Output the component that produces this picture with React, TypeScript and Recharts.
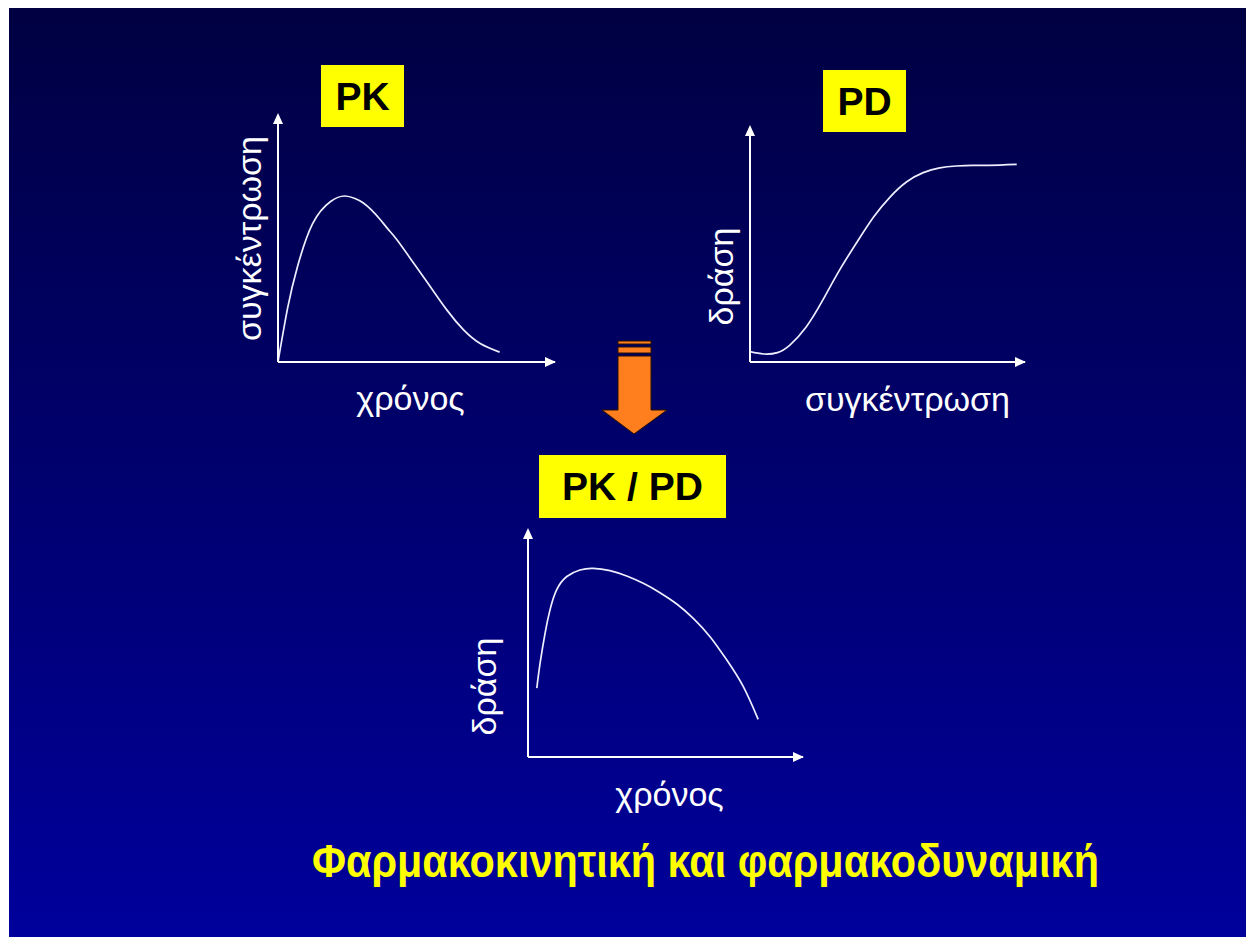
import React from 'react';
import { LineChart, Line, XAxis, YAxis, ReferenceDot, Label } from 'recharts';

// PK: plasma concentration over time
const pkTime = [0, 0.35, 0.7, 1.25, 1.9, 2.4, 2.78, 3.07, 3.38, 3.68, 3.98, 4.3, 4.9, 5.5, 6.1, 6.7, 7.3, 8.0];
const pkConcentration = [0, 2.2, 3.85, 5.6, 6.5, 6.72, 6.62, 6.45, 6.15, 5.78, 5.37, 4.94, 4.0, 3.05, 2.1, 1.3, 0.75, 0.4];

// PD: effect versus concentration
const pdConcentration = [0, 0.5, 1.0, 1.45, 2.05, 2.65, 3.25, 3.9, 4.5, 5.1, 5.7, 6.3, 6.9, 7.5, 8.1, 8.7, 9.7];
const pdEffect = [0.44, 0.34, 0.4, 0.72, 1.5, 2.64, 3.9, 5.12, 6.18, 7.03, 7.67, 8.06, 8.26, 8.34, 8.37, 8.37, 8.41];

// PK/PD: effect over time
const pkpdTime = [0.32, 0.44, 0.62, 0.8, 1.04, 1.41, 1.89, 2.37, 2.98, 3.59, 4.19, 4.8, 5.41, 6.01, 6.62, 7.23, 7.83, 8.37];
const pkpdEffect = [3.03, 4.13, 5.45, 6.48, 7.36, 7.95, 8.24, 8.31, 8.21, 7.97, 7.65, 7.24, 6.74, 6.11, 5.3, 4.27, 3.1, 1.66];

const panelTitles = ['PK', 'PD', 'PK / PD'];
const timeTitle = 'χρόνος';
const concentrationTitle = 'συγκέντρωση';
const effectTitle = 'δράση';
const slideTitle = 'Φαρμακοκινητική και φαρμακοδυναμική';

const AXIS_MAX = 10;
const FONT = '"Liberation Sans", Arial, Helvetica, sans-serif';
const CURVE = '#eeeeff';

const toRows = (xs: number[], ys: number[]) => xs.map((x, i) => ({ x, y: ys[i] }));

const upArrow = (p: any) => (
  <polygon points={`${p.cx},${p.cy - 2} ${p.cx - 5},${p.cy + 9} ${p.cx + 5},${p.cy + 9}`} fill="#ffffff" />
);
const rightArrow = (p: any) => (
  <polygon points={`${p.cx + 1},${p.cy} ${p.cx - 10},${p.cy - 5} ${p.cx - 10},${p.cy + 5}`} fill="#ffffff" />
);

type PanelProps = {
  xs: number[];
  ys: number[];
  left: number;
  top: number;
  width: number;
  height: number;
  margin: { top: number; right: number; bottom: number; left: number };
  xTitle: string;
  yTitle: string;
  xDx: number;
  xBaseline: number;
  yBaseline: number;
  yDy: number;
};

function Panel(props: PanelProps) {
  const { xs, ys, left, top, width, height, margin, xTitle, yTitle, xDx, xBaseline, yBaseline, yDy } = props;
  const data = toRows(xs, ys);

  const xLabel = (lp: any) => {
    const vb = lp.viewBox || {};
    const cx = vb.x + vb.width / 2 + xDx;
    const by = vb.y + xBaseline;
    return (
      <text x={cx} y={by} textAnchor="middle" fill="#ffffff" fontFamily={FONT} fontSize={34}>
        {xTitle}
      </text>
    );
  };
  const yLabel = (lp: any) => {
    const vb = lp.viewBox || {};
    const bx = vb.x + (vb.width || 0) + yBaseline;
    const cy = vb.y + vb.height / 2 + yDy;
    return (
      <text
        x={bx}
        y={cy}
        transform={`rotate(-90 ${bx} ${cy})`}
        textAnchor="middle"
        fill="#ffffff"
        fontFamily={FONT}
        fontSize={34}
      >
        {yTitle}
      </text>
    );
  };

  return (
    <div style={{ position: 'absolute', left, top, width, height }}>
      <LineChart width={width} height={height} data={data} margin={margin}>
        <XAxis
          dataKey="x"
          type="number"
          domain={[0, AXIS_MAX]}
          allowDataOverflow
          height={1}
          tick={false}
          tickLine={false}
          axisLine={{ stroke: '#ffffff', strokeWidth: 2 }}
        >
          <Label content={xLabel} />
        </XAxis>
        <YAxis
          dataKey="y"
          type="number"
          domain={[0, AXIS_MAX]}
          allowDataOverflow
          width={1}
          tick={false}
          tickLine={false}
          axisLine={{ stroke: '#ffffff', strokeWidth: 2 }}
        >
          <Label content={yLabel} />
        </YAxis>
        <Line
          type="natural"
          dataKey="y"
          stroke={CURVE}
          strokeWidth={1.7}
          dot={false}
          isAnimationActive={false}
        />
        <ReferenceDot x={0} y={AXIS_MAX} r={0} shape={upArrow} ifOverflow="visible" />
        <ReferenceDot x={AXIS_MAX} y={0} r={0} shape={rightArrow} ifOverflow="visible" />
      </LineChart>
    </div>
  );
}

function TitleBox({ text, left, top, width, height }: { text: string; left: number; top: number; width: number; height: number }) {
  return (
    <div
      style={{
        position: 'absolute',
        left,
        top,
        width,
        height,
        background: '#ffff00',
        color: '#000000',
        fontFamily: FONT,
        fontWeight: 'bold',
        fontSize: 39,
        display: 'flex',
        alignItems: 'center',
        justifyContent: 'center',
        lineHeight: 1,
      }}
    >
      {text}
    </div>
  );
}

function DownArrow() {
  return (
    <svg style={{ position: 'absolute', left: 595, top: 335, overflow: 'visible' }} width={80} height={105}>
      <g transform="translate(-595,-335)" fill="#ff7f1e" stroke="#2a1200" strokeWidth={1}>
        <rect x={618} y={341} width={33} height={3} />
        <rect x={618} y={347} width={33} height={6} />
        <polygon points="618,356 651,356 651,410 667,410 634,434 602,410 618,410" />
      </g>
    </svg>
  );
}

export default function App() {
  return (
    <div style={{ position: 'fixed', left: 0, top: 0, width: 1246, height: 937, background: '#ffffff', overflow: 'hidden' }}>
      <div
        style={{
          position: 'absolute',
          left: 9,
          top: 8,
          width: 1237,
          height: 929,
          background: 'linear-gradient(to bottom, #000042 0%, #00006e 50%, #00009c 100%)',
        }}
      />
      <Panel
        xs={pkTime}
        ys={pkConcentration}
        left={215}
        top={100}
        width={360}
        height={330}
        margin={{ top: 15, right: 20, bottom: 67, left: 62 }}
        xTitle={timeTitle}
        yTitle={concentrationTitle}
        xDx={-6}
        xBaseline={48}
        yBaseline={-17}
        yDy={0}
      />
      <Panel
        xs={pdConcentration}
        ys={pdEffect}
        left={690}
        top={110}
        width={355}
        height={320}
        margin={{ top: 17, right: 20, bottom: 67, left: 59 }}
        xTitle={concentrationTitle}
        yTitle={effectTitle}
        xDx={20}
        xBaseline={49}
        yBaseline={-17}
        yDy={32}
      />
      <Panel
        xs={pkpdTime}
        ys={pkpdEffect}
        left={465}
        top={515}
        width={360}
        height={310}
        margin={{ top: 15, right: 22, bottom: 67, left: 62 }}
        xTitle={timeTitle}
        yTitle={effectTitle}
        xDx={4}
        xBaseline={49}
        yBaseline={-32}
        yDy={43}
      />
      <TitleBox text={panelTitles[0]} left={321} top={65} width={83} height={62} />
      <TitleBox text={panelTitles[1]} left={823} top={70} width={83} height={62} />
      <TitleBox text={panelTitles[2]} left={539} top={455} width={187} height={63} />
      <DownArrow />
      <svg style={{ position: 'absolute', left: 0, top: 0 }} width={1246} height={937}>
        <text
          x={312}
          y={877}
          textLength={787}
          lengthAdjust="spacingAndGlyphs"
          fill="#ffff00"
          fontFamily={FONT}
          fontWeight="bold"
          fontSize={46}
        >
          {slideTitle}
        </text>
      </svg>
    </div>
  );
}
